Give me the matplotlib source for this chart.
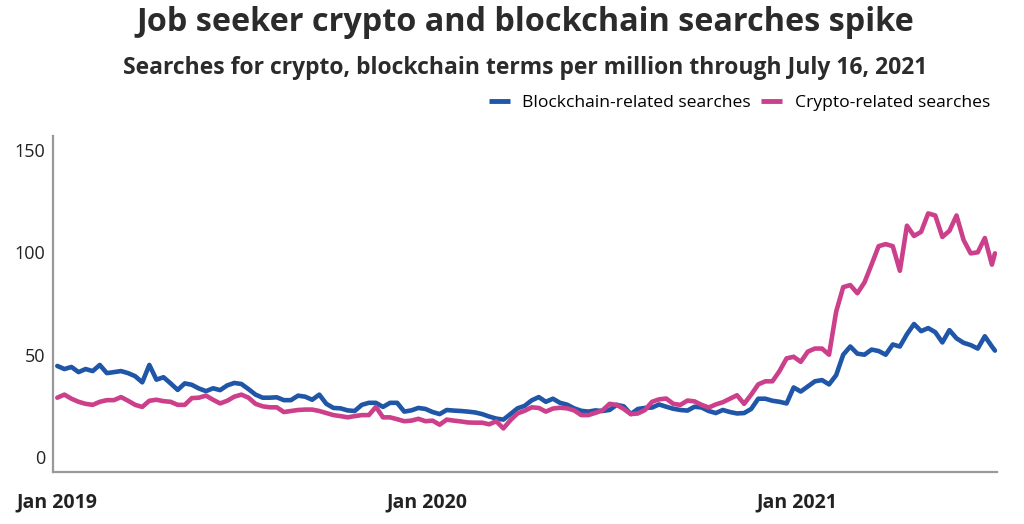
import pandas as pd
import matplotlib.pyplot as plt
import matplotlib.dates as mdates

plt.rcParams['font.family'] = ['Open Sans', 'DejaVu Sans']

# weekly readings, Jan 1 2019 .. Jul 13 2021, plus the last day (Jul 16 2021)
dates = pd.date_range('2019-01-01', periods=133, freq='7D').append(pd.DatetimeIndex(['2021-07-16']))

blockchain = [
    44.5, 43, 44, 41.5, 43, 42, 45, 41, 41.5, 42,
    41, 39.5, 36.5, 45, 37.8, 39, 36, 32.8, 36, 35.3,
    33.5, 32.2, 33.6, 32.7, 35, 36.2, 35.7, 33.2, 30.5, 29,
    29, 29.2, 27.8, 27.8, 30, 29.5, 28, 30.5, 26, 24,
    23.8, 22.8, 22.5, 25.5, 26.5, 26.5, 24.5, 26.5, 26.5, 22.2,
    22.8, 24, 23.5, 22, 21, 23, 22.7, 22.5, 22.2, 21.8,
    21, 19.8, 18.8, 18.3, 21, 23.8, 25, 27.7, 29.3, 27,
    28.5, 26.5, 25.6, 23.8, 22.6, 22.2, 22.8, 22.5, 23, 25.5,
    24.8, 21, 23.5, 24, 24.2, 25.7, 24.6, 23.6, 23, 22.7,
    24.6, 24.2, 22.5, 21.5, 23, 22, 21.3, 21.5, 23.5, 28.5,
    28.5, 27.5, 27, 26.2, 34, 32, 34.5, 37, 37.6, 35.5,
    40, 50, 54, 50.5, 50, 52.5, 51.8, 50, 55, 54,
    60, 65, 61.5, 63, 61, 56, 62, 58, 55.8, 54.7,
    53, 59, 54, 52,
]

crypto = [
    29, 30.5, 28.5, 27, 26, 25.5, 27, 27.8, 27.8, 29.3,
    27.5, 25.5, 24.5, 27.5, 28, 27.3, 27, 25.5, 25.5, 28.8,
    29, 30, 28, 26.2, 27.5, 29.5, 30.5, 29, 26, 24.8,
    24.3, 24.3, 22, 22.5, 23, 23.2, 23.2, 22.5, 21.5, 20.5,
    20, 19.4, 20, 20.5, 20.5, 24.5, 19.4, 19.4, 18.5, 17.5,
    17.8, 18.7, 17.5, 17.8, 15.8, 18.3, 17.8, 17.4, 16.9, 16.8,
    16.8, 16, 17.5, 14, 18, 21.3, 22.6, 24.3, 24, 22.2,
    23.7, 24.1, 23.8, 22.8, 20.5, 20.5, 21.6, 22.8, 26, 25.5,
    23.5, 21, 21.3, 23, 27, 28.2, 28.6, 26, 25.5, 27.6,
    27.2, 25.5, 24.2, 25.7, 26.8, 28.5, 30.2, 26, 30.5, 35.5,
    37, 37, 42, 48.2, 49, 46.5, 51.5, 53, 53, 50,
    71, 83, 84, 80, 85.3, 94, 103, 104, 103, 91,
    113, 108, 110, 119, 118, 107.5, 110.5, 118, 106, 99.5,
    100, 107, 94, 99.5,
]

blue = '#1f56a8'
pink = '#cc3f8a'

fig = plt.figure(figsize=(10.24, 5.24), dpi=100)
ax = fig.add_axes([0.052, 0.0992, 0.9216, 0.6412])

ax.plot(dates, blockchain, color=blue, lw=3.3, label='Blockchain-related searches', solid_capstyle='round')
ax.plot(dates, crypto, color=pink, lw=3.3, label='Crypto-related searches', solid_capstyle='round')

ax.set_xlim(pd.Timestamp('2018-12-28'), pd.Timestamp('2021-07-18'))
ax.set_ylim(-7.3, 156.8)
ax.set_yticks([0, 50, 100, 150])
ax.set_xticks(pd.to_datetime(['2019-01-01', '2020-01-01', '2021-01-01']))
ax.xaxis.set_major_formatter(mdates.DateFormatter('%b %Y'))

for s in ['top', 'right']:
    ax.spines[s].set_visible(False)
for s in ['left', 'bottom']:
    ax.spines[s].set_color('#999999')
    ax.spines[s].set_linewidth(1.6)

ax.tick_params(axis='y', length=0, pad=6, labelsize=13, labelcolor='#222222')
ax.tick_params(axis='x', length=0, pad=15, labelsize=14, labelcolor='#222222')
for lab in ax.get_xticklabels():
    lab.set_fontweight('bold')

fig.text(0.513, 0.957, 'Job seeker crypto and blockchain searches spike',
         ha='center', va='center', fontsize=23.3, fontweight='bold', color='#2b2b2b')
fig.text(0.513, 0.870, 'Searches for crypto, blockchain terms per million through July 16, 2021',
         ha='center', va='center', fontsize=16.5, fontweight='bold', color='#2b2b2b')

leg = ax.legend(loc='center right', bbox_to_anchor=(0.982, 0.803), bbox_transform=fig.transFigure,
                ncol=2, frameon=False, fontsize=12.6, handlelength=1.2, handletextpad=0.7,
                columnspacing=0.6)
for line in leg.get_lines():
    line.set_linewidth(3.5)
    line.set_solid_capstyle('butt')

fig.savefig('out.png', dpi=100)
